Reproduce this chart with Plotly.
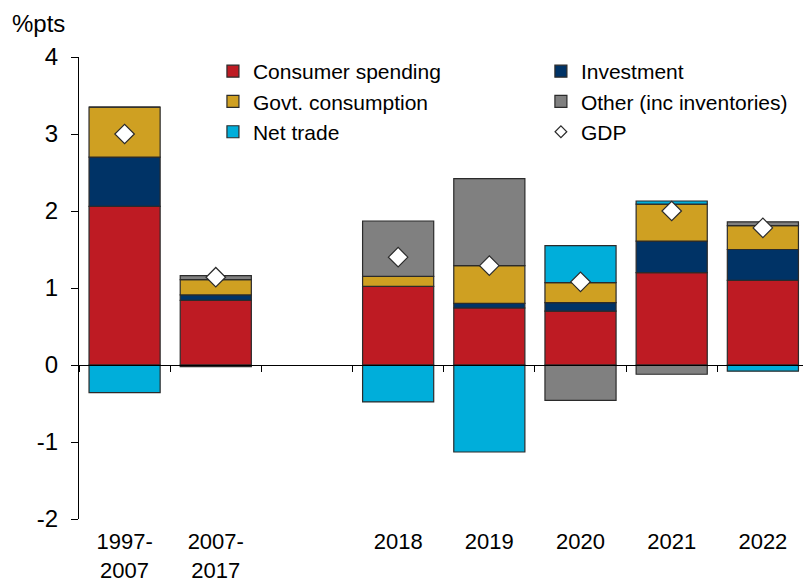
import plotly.graph_objects as go

# Contributions to GDP growth, percentage points
categories = ["1997-<br>2007", "2007-<br>2017", " ", "2018", "2019", "2020", "2021", "2022"]
consumer_spending = [2.06, 0.84, None, 1.02, 0.74, 0.70, 1.20, 1.10]
investment = [0.64, 0.07, None, 0.00, 0.06, 0.11, 0.41, 0.40]
govt_consumption = [0.65, 0.20, None, 0.13, 0.49, 0.26, 0.48, 0.31]
other_inc_inventories = [0.00, 0.05, None, 0.72, 1.13, -0.46, -0.12, 0.05]
net_trade = [-0.36, -0.02, None, -0.48, -1.13, 0.48, 0.04, -0.08]
gdp = [3.00, 1.14, None, 1.40, 1.29, 1.08, 2.00, 1.78]
y_ticks = [-2, -1, 0, 1, 2, 3, 4]

FONT = "Arial, Liberation Sans, sans-serif"
OUTLINE = "#2b2b2b"

# (name, values, colour, legend column)
series = [
    ("Consumer spending", consumer_spending, "#BE1B23", "legend"),
    ("Investment", investment, "#003366", "legend2"),
    ("Govt. consumption", govt_consumption, "#CFA022", "legend"),
    ("Other (inc inventories)", other_inc_inventories, "#808080", "legend2"),
    ("Net trade", net_trade, "#00AEDA", "legend"),
]

fig = go.Figure()
for name, vals, color, leg in series:
    fig.add_trace(go.Bar(
        x=categories, y=vals, name=name, width=0.78, legend=leg,
        marker=dict(color=color, line=dict(color=OUTLINE, width=1.2)),
    ))

fig.add_trace(go.Scatter(
    x=categories, y=gdp, name="GDP", mode="markers", showlegend=False,
    marker=dict(symbol="diamond", size=15, color="white",
                line=dict(color=OUTLINE, width=1.2)),
))
# smaller key symbol for GDP in the legend
fig.add_trace(go.Scatter(
    x=[None], y=[None], name="GDP", mode="markers", legend="legend2",
    marker=dict(symbol="diamond", size=9, color="white",
                line=dict(color=OUTLINE, width=1.2)),
))

# invisible helper trace so the second x axis (zero line with boundary ticks) exists
fig.add_trace(go.Scatter(x=[0], y=[0], xaxis="x2", mode="markers",
                         marker=dict(opacity=0), showlegend=False, hoverinfo="skip"))

legend_style = dict(
    orientation="v", yanchor="top", xanchor="left", xref="paper", yref="paper",
    font=dict(size=21, family=FONT), bgcolor="rgba(0,0,0,0)",
    itemwidth=30, traceorder="normal", tracegroupgap=0,
)

fig.update_layout(
    width=803, height=588,
    margin=dict(l=79, r=0, t=57, b=69, autoexpand=False),
    barmode="relative",
    plot_bgcolor="white", paper_bgcolor="white",
    font=dict(family=FONT, color="black"),
    xaxis=dict(
        type="category", categoryorder="array", categoryarray=categories,
        range=[-0.5, 7.44], showline=False, ticks="", showgrid=False,
        zeroline=False, tickfont=dict(size=22), ticklabelstandoff=7,
        automargin=False,
    ),
    xaxis2=dict(
        overlaying="x", anchor="free", position=1 / 3, side="bottom",
        range=[-0.5, 7.44], tick0=0.5, dtick=1, ticks="outside", ticklen=6,
        tickcolor="black", showticklabels=False, showline=True,
        linecolor="black", linewidth=1.3, showgrid=False, zeroline=False,
        automargin=False,
    ),
    yaxis=dict(
        range=[-2, 4], tickvals=y_ticks, ticktext=[str(v) for v in y_ticks],
        showgrid=False, zeroline=False,
        showline=True, linecolor="black", linewidth=1.3,
        ticks="outside", ticklen=7, tickcolor="black",
        tickfont=dict(size=24), ticklabelstandoff=8, automargin=False,
    ),
    legend=dict(legend_style, x=0.185, y=1.013),
    legend2=dict(legend_style, x=0.638, y=1.013),
    annotations=[dict(
        text="%pts", xref="paper", yref="paper", x=-0.095, y=1.0, yshift=34,
        xanchor="left", yanchor="middle", showarrow=False,
        font=dict(size=24, family=FONT),
    )],
)

fig.write_html("out.html")
